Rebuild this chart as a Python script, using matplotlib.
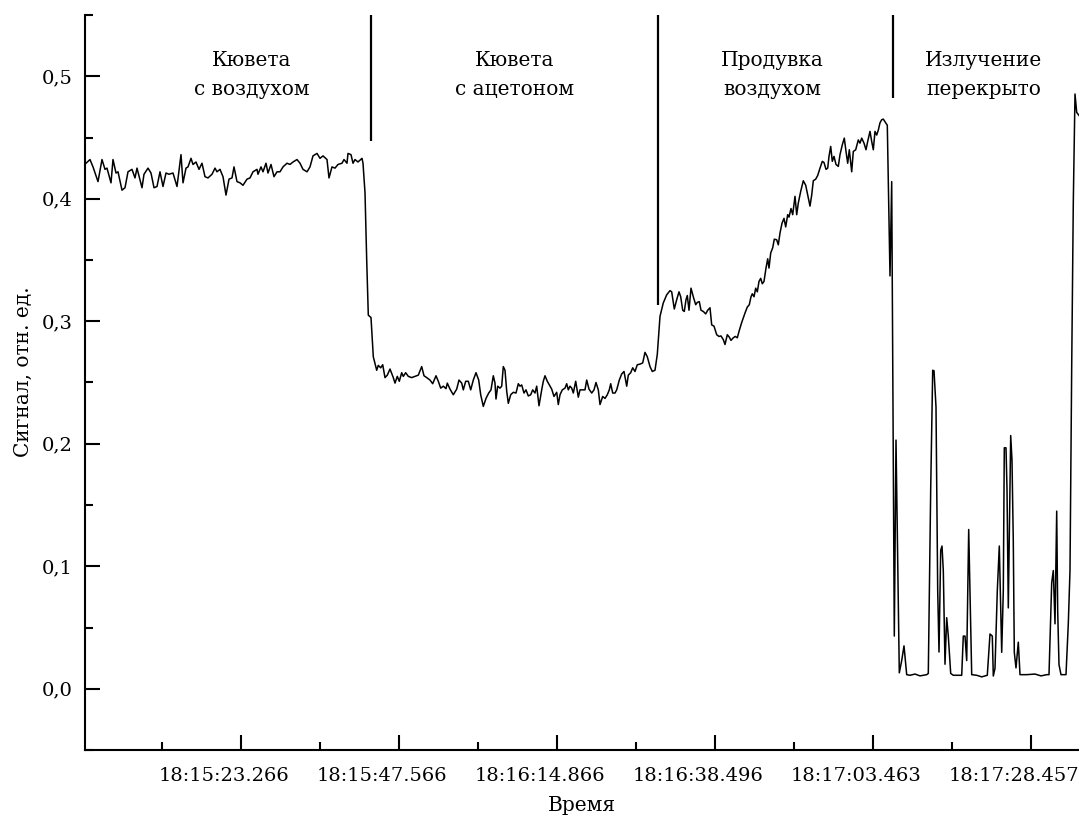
import numpy as np
import matplotlib
matplotlib.use('Agg')
import matplotlib.pyplot as plt
from matplotlib.ticker import FixedLocator, FuncFormatter
from matplotlib.transforms import ScaledTranslation

plt.rcParams['font.family'] = ['DejaVu Serif']

# сигнал по участкам: (номер отсчёта, сигнал)
air = [(1, .429), (5, .432), (8, .426), (13, .414), (17, .432), (20, .424), (22, .425), (26, .413),
       (28, .432), (31, .421), (33, .422), (37, .407), (40, .409), (43, .422), (47, .424), (50, .417),
       (52, .425), (57, .409), (59, .420), (63, .425), (66, .421), (69, .409), (72, .410), (75, .422),
       (78, .410), (81, .421), (84, .420), (88, .421), (92, .410), (96, .436), (98, .413), (101, .425),
       (103, .426), (106, .433), (108, .428), (111, .430), (114, .424), (117, .429), (120, .418),
       (123, .417), (127, .420), (130, .425), (132, .422), (135, .424), (138, .418), (141, .403),
       (144, .416), (147, .417), (149, .426), (152, .414), (155, .413), (158, .411), (162, .416),
       (165, .417), (168, .422), (172, .424), (173, .420), (176, .426), (178, .422), (181, .429),
       (183, .421), (186, .428), (189, .418), (192, .422), (195, .422), (198, .426), (202, .429),
       (205, .428), (208, .430), (212, .432), (215, .429), (218, .424), (222, .422), (225, .426),
       (228, .435), (232, .437), (235, .433), (238, .435), (242, .432), (244, .417), (247, .426),
       (250, .425), (253, .428), (257, .429), (259, .432), (262, .429), (263, .437), (266, .436),
       (268, .429), (270, .432), (273, .430), (277, .433), (278, .429)]

acetone = [(280, .405), (281.7, .350), (283.3, .305), (286, .303), (288.3, .271), (291.7, .260),
           (293.3, .264), (295.7, .262), (297.7, .2645), (300, .254), (302.3, .256), (305, .261),
           (308.3, .254), (310, .2495), (312.3, .255), (314.3, .251), (316.7, .258), (318.3, .255),
           (320.7, .258), (323.3, .255), (326.7, .254), (330, .255), (333.3, .256), (336.7, .263),
           (339, .2555), (341.7, .254), (345, .252), (347.7, .249), (351, .2555), (353.3, .251),
           (355.7, .2454), (358.3, .247), (361, .245), (362.3, .2495), (365, .2446), (368.3, .240),
           (371.7, .2446), (374, .252), (376.7, .2495), (378.3, .244), (380.7, .251), (383.3, .251),
           (385.7, .244), (388.3, .252), (391, .258), (393.7, .252), (395.7, .240), (398.3, .2305),
           (401, .237), (403.7, .2414), (406, .244), (408.3, .2555), (410, .2495), (411, .2365),
           (412.7, .247), (415, .2454), (416.7, .247), (418.3, .263), (420, .260), (421.7, .243),
           (423.3, .233), (425.7, .240), (428.3, .242), (431, .2414), (433.3, .249), (435, .247),
           (436.7, .248), (439, .2414), (441, .244), (443.3, .239), (445.7, .240), (447.7, .244),
           (450, .2414), (451.7, .247), (454, .231), (456.7, .244), (458.3, .251), (460, .2555),
           (462.3, .251), (465, .247), (466.7, .2446), (469, .2386), (471.7, .242), (473.3, .232),
           (475, .240), (477.3, .244), (480, .2454), (481.7, .249), (483.3, .244), (485, .247),
           (486.7, .2454), (488.3, .2414), (490.7, .251), (493.3, .238), (495, .244), (497.7, .244),
           (500, .244), (501.7, .252), (504, .2446), (506.7, .2414), (509, .244), (511, .250),
           (513.3, .244), (515, .232), (517.7, .2386), (520, .237), (522.3, .240), (524.3, .244),
           (525.7, .249), (527.7, .2414), (530, .2414), (531.7, .244), (534.3, .252), (536.7, .257),
           (539, .259), (541.7, .247), (543.3, .256), (545.7, .258), (547.7, .262), (550, .259),
           (552.3, .2645), (555, .265), (557.7, .266), (560, .2746), (562.3, .271), (565, .263),
           (567.3, .259), (570, .260), (572.3, .273), (574.3, .296)]

purge = [(575, .304), (578.3, .315), (581.7, .3216), (585, .325), (586.7, .324), (589.3, .310),
         (591.7, .3176), (594, .324), (595.7, .320), (597.7, .309), (599.3, .308), (601, .3176),
         (602.3, .321), (604, .309), (606, .327), (608.3, .320), (610.7, .3135), (612.3, .3154),
         (614.3, .316), (616, .309), (618.3, .308), (620.7, .306), (622.7, .309), (625, .311),
         (626.7, .297), (629, .296), (631.7, .289), (634, .2876), (636, .288), (638.3, .285),
         (640, .281), (642.3, .289), (644.3, .287), (646, .2844), (648.3, .2865), (650.3, .2876),
         (652.3, .2865), (654.3, .2925), (656.7, .299), (660, .3067), (662.3, .3116), (664.3, .3135),
         (666, .320), (667.3, .3224), (669, .320), (670.7, .327), (672.3, .324), (674, .3325),
         (675.7, .335), (677.3, .3306), (679, .3325), (681, .3434), (682.7, .351), (684, .3434),
         (685.7, .3557), (687.7, .360), (689.3, .367), (691.7, .3665), (693.3, .3624), (695, .372),
         (697, .380), (699, .384), (700.7, .377), (702.7, .387), (704, .385), (706, .392),
         (707.7, .387), (710, .402), (711.7, .387), (713.3, .3965), (715.7, .406), (718.3, .4147),
         (720.7, .411), (722.7, .403), (725, .394), (726.7, .403), (728.3, .4147), (730.7, .416),
         (732.7, .419), (735, .425), (737.3, .4305), (739, .4296), (741, .424), (742.7, .425),
         (744, .4346), (745.7, .4427), (747.3, .4305), (749, .4346), (751, .428), (753.3, .4264),
         (755, .436), (757.3, .444), (759.3, .4495), (761, .4386), (762.7, .429), (764.3, .440),
         (766.7, .422), (768.3, .4386), (770.7, .440), (773.3, .448), (775, .4454), (776.7, .4495),
         (779, .4454), (781, .440), (782.7, .4468), (785, .455), (786.7, .4468), (788.3, .440),
         (790, .455), (791.7, .452), (793.3, .456), (795, .462), (796.7, .4645), (798.3, .465),
         (800.7, .462), (802.3, .460)]

blocked = [(805, .337), (806.7, .414), (809.3, .043), (811, .203), (814.3, .013), (816.7, .023),
           (819, .035), (821.7, .0115), (825, .011), (830, .012), (835, .0105), (841.7, .0115),
           (843.3, .0125), (845.7, .163), (847.7, .260), (849, .2596), (851, .230), (852.7, .080),
           (854, .030), (855.7, .113), (857, .1165), (858.3, .0965), (860, .020), (861.7, .058),
           (863.3, .043), (865.7, .0125), (868.3, .011), (873.3, .011), (876.7, .011), (878.3, .043),
           (880, .043), (881.7, .023), (883.7, .130), (885, .080), (886.7, .0115), (891.7, .011),
           (896.7, .0097), (902.3, .011), (905, .0447), (907.3, .043), (908.3, .0104), (910, .0167),
           (912.3, .080), (914.3, .1165), (916.7, .0297), (918.3, .080), (919.3, .1967), (921, .1967),
           (922, .163), (923.3, .066), (925.7, .2067), (927, .1866), (928.3, .120), (929.3, .0297),
           (931, .017), (933.3, .038), (935, .0115), (941.7, .0115), (950, .012), (956, .0105),
           (961.7, .0115), (964, .0115), (966.7, .0865), (968.3, .0965), (970, .053), (971.7, .145),
           (972.7, .063), (974, .0197), (976, .0115), (979, .0115), (981, .0115), (983.3, .053),
           (985, .0965), (986.7, .263), (988.3, .397), (990, .4855), (991.7, .4705), (994, .468)]

# границы этапов и подписи
stage_x = [286, 572.7, 807.7]
stage_bottom = [0.447, 0.3135, 0.482]
label_x = [167, 429.5, 687, 899]
labels = ['Кювета\nс воздухом', 'Кювета\nс ацетоном', 'Продувка\nвоздухом', 'Излучение\nперекрыто']

# ось времени
time_ticks = [156, 314, 472, 630, 788, 946]
time_minor = [77, 235, 393, 551, 709, 867]
time_labels = ['18:15:23.266', '18:15:47.566', '18:16:14.866',
               '18:16:38.496', '18:17:03.463', '18:17:28.457']

data = np.array(air + acetone + purge + blocked)

fig = plt.figure(figsize=(10.79, 8.23), dpi=100)
ax = fig.add_axes([85 / 1079, 73 / 823, 994 / 1079, 735 / 823])

ax.plot(data[:, 0], data[:, 1], color='black', lw=1.1)
ax.vlines(stage_x, stage_bottom, 0.55, color='black', lw=1.6)
for x, t in zip(label_x, labels):
    ax.text(x, 0.501, t, ha='center', va='center', fontsize=14.5, linespacing=1.7)

ax.set_xlim(0, 994)
ax.set_ylim(-0.05, 0.55)

ax.xaxis.set_major_locator(FixedLocator(time_ticks))
ax.xaxis.set_minor_locator(FixedLocator(time_minor))
ax.set_xticklabels(time_labels)
ax.set_yticks(np.arange(0, 0.51, 0.1))
ax.set_yticks(np.arange(-0.05, 0.56, 0.1), minor=True)
ax.yaxis.set_major_formatter(FuncFormatter(lambda v, p: f'{v:.1f}'.replace('.', ',')))

ax.tick_params(which='both', direction='in', width=1.5, labelsize=14)
ax.tick_params(which='major', length=11)
ax.tick_params(which='minor', length=5.5)
ax.tick_params(axis='x', pad=12)
ax.tick_params(axis='y', pad=9)

# подписи времени чуть левее делений
shift = ScaledTranslation(-17 / 100, 0, fig.dpi_scale_trans)
for lab in ax.get_xticklabels():
    lab.set_transform(lab.get_transform() + shift)

for s in ['top', 'right']:
    ax.spines[s].set_visible(False)
for s in ['left', 'bottom']:
    ax.spines[s].set_linewidth(1.5)

ax.set_xlabel('Время', fontsize=14.5)
ax.set_ylabel('Сигнал, отн. ед.', fontsize=14.5)
ax.xaxis.set_label_coords(0.5, -0.063)
ax.yaxis.set_label_coords(-0.052, 0.515)

fig.savefig('out.png', dpi=100)
